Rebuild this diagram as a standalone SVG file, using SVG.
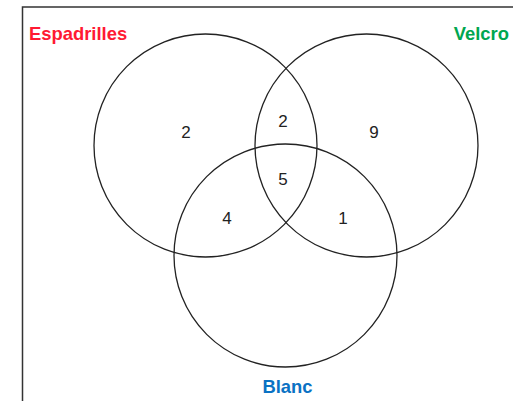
<svg xmlns="http://www.w3.org/2000/svg" width="513" height="401" viewBox="0 0 513 401">
<style>
.c{fill:none;stroke:#222;stroke-width:1.3}
.n{font-family:"Liberation Sans",Arial,sans-serif;font-size:17px;fill:#222;text-anchor:middle}
.t{font-family:"Liberation Sans",Arial,sans-serif;font-size:18.4px;font-weight:bold}
</style>
<rect width="513" height="401" fill="#fff"/>
<g id="frame"><path d="M22.5 401V7H513" fill="none" stroke="#333" stroke-width="1.5"/></g>
<g id="espadrilles"><circle class="c" cx="205.5" cy="145.5" r="111.5"/><text class="t" x="29" y="40" fill="#ff1a33">Espadrilles</text></g>
<g id="velcro"><circle class="c" cx="366.5" cy="145.5" r="111.5"/><text class="t" x="509" y="40" fill="#00a650" text-anchor="end">Velcro</text></g>
<g id="blanc"><circle class="c" cx="285.5" cy="255.5" r="111.5"/><text class="t" x="287.5" y="393" fill="#0a72c4" text-anchor="middle">Blanc</text></g>
<g id="counts">
<text class="n" x="186" y="138">2</text>
<text class="n" x="283" y="127">2</text>
<text class="n" x="374" y="138">9</text>
<text class="n" x="283" y="185">5</text>
<text class="n" x="227" y="224">4</text>
<text class="n" x="343" y="224">1</text>
</g>
</svg>
